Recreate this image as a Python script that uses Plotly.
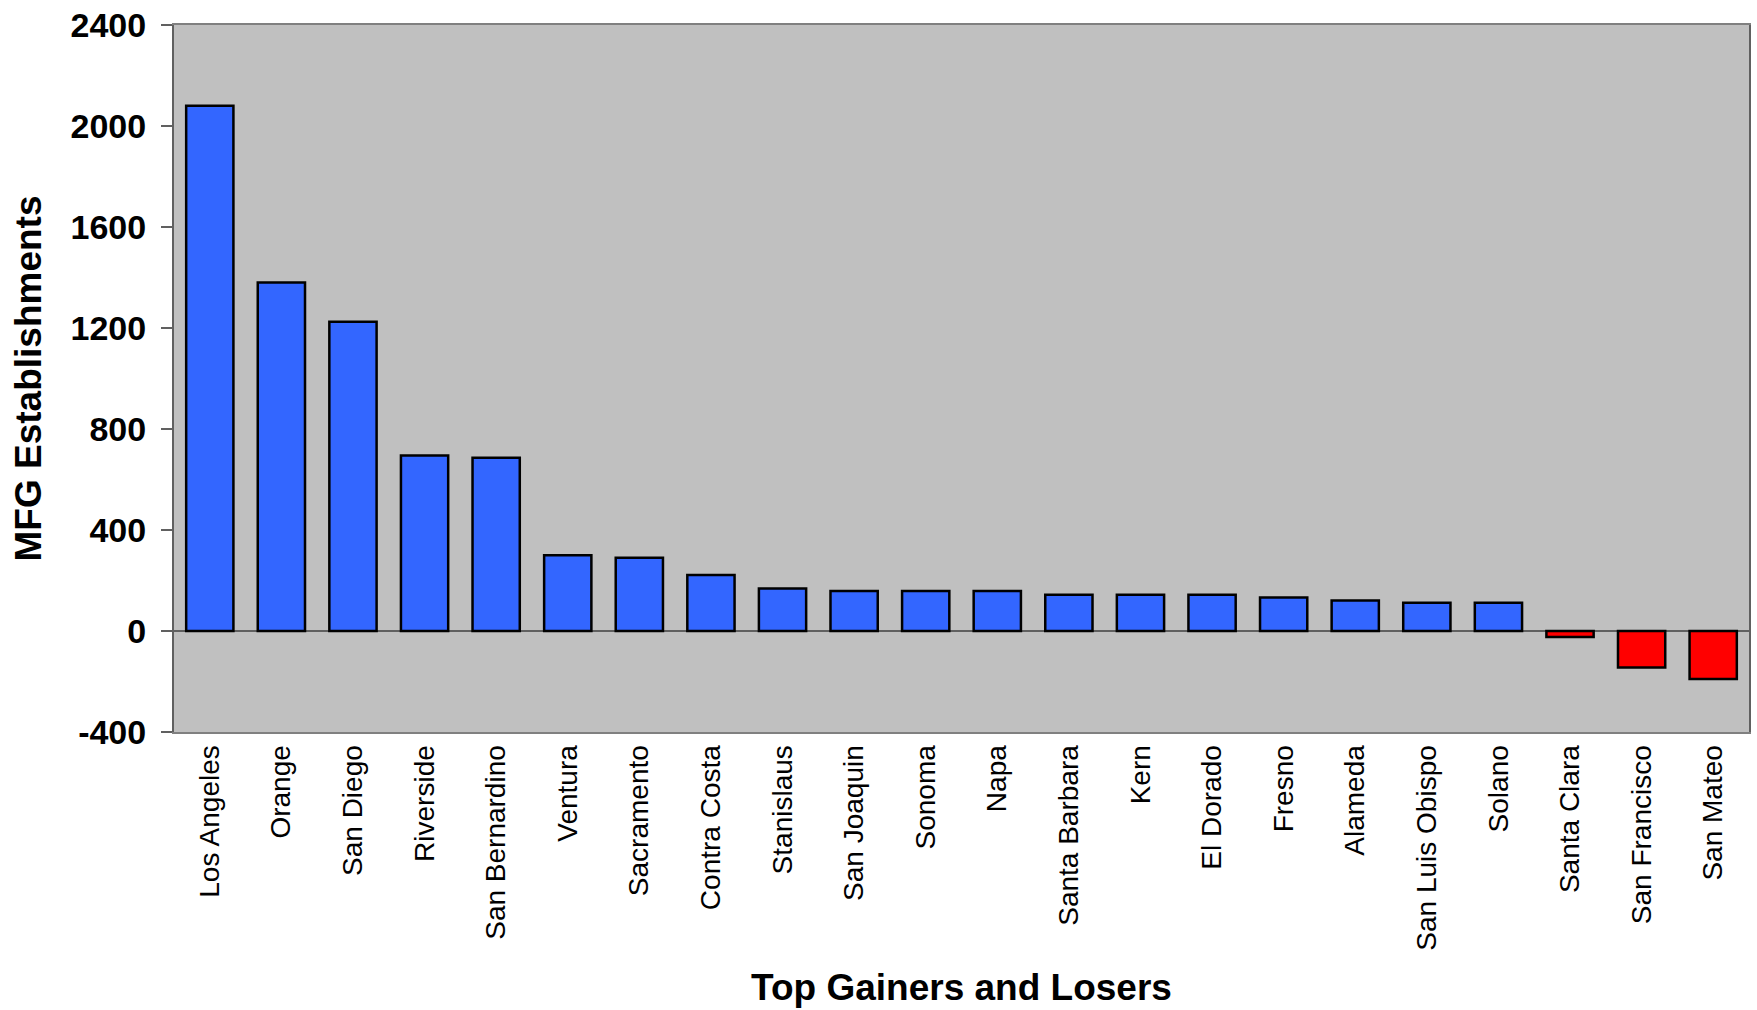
import plotly.graph_objects as go

# County change in manufacturing establishments
counties = [
    "Los Angeles", "Orange", "San Diego", "Riverside", "San Bernardino",
    "Ventura", "Sacramento", "Contra Costa", "Stanislaus", "San Joaquin",
    "Sonoma", "Napa", "Santa Barbara", "Kern", "El Dorado", "Fresno",
    "Alameda", "San Luis Obispo", "Solano", "Santa Clara", "San Francisco",
    "San Mateo",
]
change = [
    2080, 1380, 1225, 695, 686,
    300, 290, 222, 168, 158,
    158, 158, 144, 144, 144, 133,
    121, 112, 112, -24, -145,
    -190,
]
y_ticks = [-400, 0, 400, 800, 1200, 1600, 2000, 2400]
y_tick_labels = ["-400", "0", "400", "800", "1200", "1600", "2000", "2400"]

GAIN = "#3366FF"
LOSS = "#FF0000"
colors = [GAIN if v >= 0 else LOSS for v in change]

FONT = "Liberation Sans, Arial, sans-serif"

fig = go.Figure(
    go.Bar(
        x=counties,
        y=change,
        marker=dict(color=colors, line=dict(color="black", width=2.5)),
        hoverinfo="x+y",
    )
)

fig.update_layout(
    width=1757,
    height=1010,
    margin=dict(l=174, r=6, t=23, b=278),
    paper_bgcolor="white",
    plot_bgcolor="#C0C0C0",
    bargap=0.34,
    showlegend=False,
    font=dict(family=FONT, color="black"),
)

fig.update_xaxes(
    tickangle=-90,
    tickfont=dict(family=FONT, size=28, color="black"),
    showline=True,
    linecolor="#808080",
    linewidth=2,
    mirror=True,
    ticks="",
    showgrid=False,
    title=dict(
        text="<b>Top Gainers and Losers</b>",
        font=dict(family=FONT, size=37, color="black"),
        standoff=24,
    ),
)

fig.update_yaxes(
    range=[-400, 2400],
    tickvals=y_ticks,
    ticktext=["<b>%s</b>" % t for t in y_tick_labels],
    tickfont=dict(family=FONT, size=34, color="black"),
    ticks="outside",
    ticklen=11,
    tickcolor="#606060",
    tickwidth=2,
    ticklabelstandoff=8,
    showline=True,
    linecolor="#606060",
    linewidth=2,
    mirror=True,
    showgrid=False,
    zeroline=True,
    zerolinecolor="#606060",
    zerolinewidth=1.5,
    title=dict(
        text="<b>MFG Establishments</b>",
        font=dict(family=FONT, size=37, color="black"),
        standoff=18,
    ),
)

fig.write_html("out.html")
